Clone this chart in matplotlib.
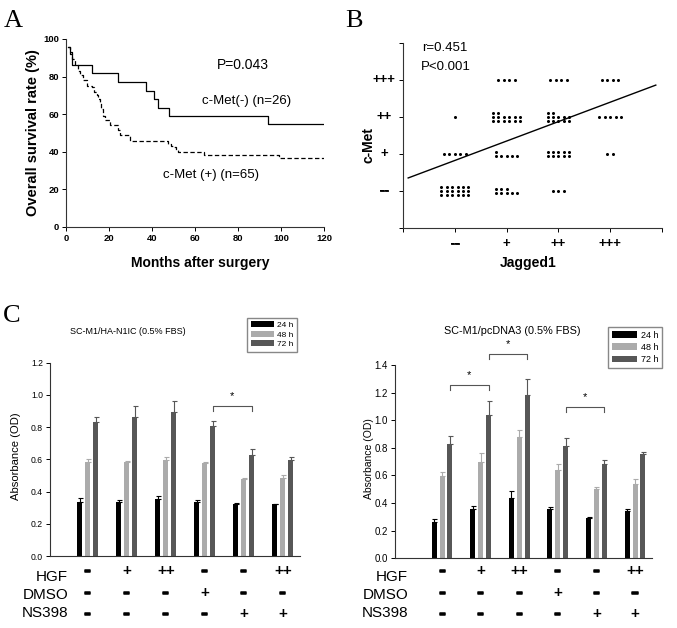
import numpy as np
import matplotlib.pyplot as plt
import matplotlib.patheffects as pe
from matplotlib.patches import Patch
from matplotlib.transforms import blended_transform_factory

plt.rcParams['font.family'] = ['Liberation Sans', 'DejaVu Sans']

# --- 1. Data ---

# Panel A: Kaplan-Meier steps (month, survival % after that month)
neg_months = [0.8, 2, 3, 12, 24, 37, 41, 43, 48, 94, 120]
neg_surv = [96, 92, 86.2, 82, 77.3, 72.5, 68, 63.5, 59, 54.6, 54.6]
pos_months = [0.8, 2, 3, 4.2, 5.5, 6.5, 8, 9.6, 11.9, 13, 14.3, 15, 15.8, 16.5,
              17.1, 18.1, 20.5, 24.3, 25.1, 29.8, 47.6, 48.8, 49.9, 51, 52.2,
              64, 99, 120]
pos_surv = [96, 93, 89.5, 86.2, 83, 80.9, 78, 75, 74.3, 72, 70.2, 68, 65.8, 62.5,
            59, 56.9, 54.3, 51.6, 48.9, 45.9, 44.4, 43, 42.4, 41, 40.1,
            38.5, 36.5, 36.5]

# Panel B: score levels and dot columns (column heights) per c-Met level
levels = ['--', '+', '++', '+++']
jag_neg = [[3, 3, 3, 3, 3, 3], [1, 1, 1, 1, 1], [1], []]
jag_p1 = [[2, 2, 2, 1, 1], [2, 1, 1, 1, 1], [3, 3, 2, 2, 2, 2], [1, 1, 1, 1]]
jag_p2 = [[1, 1, 1], [2, 2, 2, 2, 2], [3, 3, 2, 2, 2], [1, 1, 1, 1]]
jag_p3 = [[], [1, 1], [1, 1, 1, 1, 1], [1, 1, 1, 1]]
fit_slope = 0.525
fit_intercept = 1.30

# Panel C: absorbance
times = ['24 h', '48 h', '72 h']
left_24 = [0.335, 0.335, 0.355, 0.335, 0.32, 0.322]
left_24_err = [0.022, 0.012, 0.015, 0.01, 0.012, 0.003]
left_48 = [0.585, 0.585, 0.595, 0.575, 0.475, 0.485]
left_48_err = [0.015, 0.004, 0.02, 0.01, 0.008, 0.015]
left_72 = [0.83, 0.86, 0.895, 0.81, 0.625, 0.595]
left_72_err = [0.035, 0.07, 0.07, 0.03, 0.04, 0.02]

right_24 = [0.265, 0.36, 0.435, 0.36, 0.29, 0.34]
right_24_err = [0.02, 0.02, 0.055, 0.01, 0.008, 0.018]
right_48 = [0.595, 0.70, 0.875, 0.64, 0.505, 0.54]
right_48_err = [0.03, 0.06, 0.055, 0.04, 0.012, 0.035]
right_72 = [0.83, 1.035, 1.185, 0.815, 0.68, 0.755]
right_72_err = [0.055, 0.105, 0.115, 0.055, 0.035, 0.015]

cond_names = ['HGF', 'DMSO', 'NS398']
hgf = ['-', '+', '++', '-', '-', '++']
dmso = ['-', '-', '-', '+', '-', '-']
ns398 = ['-', '-', '-', '-', '+', '+']

left_brackets = [(3, 4, 0.93)]
right_brackets = [(0, 1, 1.255), (1, 2, 1.477), (3, 4, 1.093)]

# --- 2. Layout helpers ---
W, H = 677, 628
fig = plt.figure(figsize=(W / 100, H / 100), dpi=100)


def box(l, t, r, b):
    return [l / W, 1 - b / H, (r - l) / W, (b - t) / H]


def fy(y):
    return 1 - y / H


def clean(ax):
    ax.spines['top'].set_visible(False)
    ax.spines['right'].set_visible(False)
    for s in ('left', 'bottom'):
        ax.spines[s].set_linewidth(0.8)
        ax.spines[s].set_color('#333333')


# --- 3. Panel A ---
axA = fig.add_axes(box(66, 39, 324, 227))
axA.step(neg_months, neg_surv, where='post', color='k', lw=0.9)
axA.step(pos_months, pos_surv, where='post', color='k', lw=0.9, ls=(0, (3.5, 2)))
axA.set_xlim(0, 120)
axA.set_ylim(0, 100)
axA.set_xticks(range(0, 121, 20))
axA.set_yticks(range(0, 101, 20))
clean(axA)
axA.tick_params(direction='out', length=3, width=0.7, labelsize=6.8, pad=2)
for lbl in axA.get_xticklabels() + axA.get_yticklabels():
    lbl.set_fontweight('bold')
axA.text(70.2, 84.3, 'P=0.043', fontsize=10)
axA.text(63.3, 65.4, 'c-Met(-) (n=26)', fontsize=9.5)
axA.text(45.1, 25.9, 'c-Met (+) (n=65)', fontsize=9.5)
fig.text(33 / W, fy(133), 'Overall survival rate (%)', rotation=90, ha='center',
         va='center', fontsize=10.5, fontweight='bold')
fig.text(200 / W, fy(263), 'Months after surgery', ha='center', va='center',
         fontsize=10, fontweight='bold')

# --- 4. Panel B ---
axB = fig.add_axes(box(403, 43, 662, 228))
dx, dy = 0.105, 0.115
for j, cells in enumerate([jag_neg, jag_p1, jag_p2, jag_p3]):
    for m, cols in enumerate(cells):
        if not cols:
            continue
        n = len(cols)
        base = (m + 1) - (max(cols) - 1) / 2 * dy
        for c, h in enumerate(cols):
            xs = np.full(h, (j + 1) + (c - (n - 1) / 2) * dx)
            ys = base + np.arange(h) * dy
            axB.plot(xs, ys, 'o', color='k', ms=2.2, mec='none')
xl = np.array([0.1, 4.88])
axB.plot(xl, fit_intercept + fit_slope * xl, color='k', lw=1.0)
axB.set_xlim(0, 5)
axB.set_ylim(0, 5)
axB.set_xticks(range(6))
axB.set_yticks(range(6))
axB.set_xticklabels([])
axB.set_yticklabels([])
clean(axB)
axB.tick_params(direction='out', length=3, width=0.7)
for i, lab in enumerate(levels):
    fx = [pe.withStroke(linewidth=0.6, foreground='k')] if lab == '--' else None
    axB.text(i + 1, -0.087, lab, transform=axB.get_xaxis_transform(), ha='center',
             va='center', fontsize=9.5, fontweight='bold', path_effects=fx)
    axB.text(-0.073, i + 1, lab, transform=axB.get_yaxis_transform(), ha='center',
             va='center', fontsize=9.5, fontweight='bold', path_effects=fx)
axB.text(0.073, 0.957, 'r=0.451', transform=axB.transAxes, fontsize=9.5, va='baseline')
axB.text(0.070, 0.855, 'P<0.001', transform=axB.transAxes, fontsize=9.5, va='baseline')
fig.text(368 / W, fy(145), 'c-Met', rotation=90, ha='center', va='center',
         fontsize=10, fontweight='bold')
fig.text(528 / W, fy(263), 'Jagged1', ha='center', va='center',
         fontsize=10, fontweight='bold')

# --- 5. Panel C ---
bar_colors = ['#000000', '#ababab', '#575757']
offsets = [-0.205, 0.0, 0.205]
label_rows = [577, 595, 613]
symbol_rows = [571, 593, 614]


def bar_panel(rect, xlim, ymax, vals, errs, brackets, drop, title, title_xy,
              title_fs, ylab_xy, ylab_fs, fs, leg_anchor, leg_fs, leg_sp,
              label_right):
    ax = fig.add_axes(rect)
    x = np.arange(6)
    for k in range(3):
        ax.bar(x + offsets[k], vals[k], width=0.13, color=bar_colors[k],
               yerr=[np.zeros(6), errs[k]],
               error_kw=dict(ecolor=bar_colors[k], elinewidth=0.8, capsize=1.8,
                             capthick=0.8))
    ax.set_xlim(*xlim)
    ax.set_ylim(0, ymax)
    ax.set_xticks([])
    ax.set_yticks(np.arange(0, ymax + 0.01, 0.2))
    ax.set_yticklabels(['%.1f' % v for v in np.arange(0, ymax + 0.01, 0.2)])
    clean(ax)
    ax.tick_params(axis='y', direction='out', length=3, width=0.7, labelsize=fs, pad=2)
    for a, b, h in brackets:
        xa, xb = a + offsets[2], b + offsets[2]
        ax.plot([xa, xa, xb, xb], [h - drop, h, h, h - drop], color='#555555',
                lw=0.8, clip_on=False)
        ax.text((xa + xb) / 2, h + 2.2 * drop, '*', ha='center', va='center',
                fontsize=8)
    fig.text(title_xy[0] / W, fy(title_xy[1]), title, ha='center', va='center',
             fontsize=title_fs)
    fig.text(ylab_xy[0] / W, fy(ylab_xy[1]), 'Absorbance (OD)', rotation=90,
             ha='center', va='center', fontsize=ylab_fs)
    handles = [Patch(facecolor=c, edgecolor='none') for c in bar_colors]
    ax.legend(handles, times, loc='upper right', bbox_to_anchor=leg_anchor,
              bbox_transform=fig.transFigure, fontsize=leg_fs, frameon=True,
              fancybox=False, edgecolor='#888888', framealpha=1,
              handlelength=2.8, handleheight=0.7, borderpad=0.4,
              labelspacing=leg_sp, handletextpad=0.4, borderaxespad=0)
    trans = blended_transform_factory(ax.transData, fig.transFigure)
    for row, syms in enumerate([hgf, dmso, ns398]):
        fig.text(label_right / W, fy(label_rows[row]), cond_names[row], ha='right',
                 va='center', fontsize=11)
        for i, s in enumerate(syms):
            if s == '-':
                ax.text(i, fy(symbol_rows[row]), s, transform=trans, ha='center',
                        va='center', fontsize=12, fontweight='bold',
                        family='DejaVu Sans',
                        path_effects=[pe.withStroke(linewidth=1.1, foreground='k')])
            else:
                ax.text(i, fy(symbol_rows[row]), s, transform=trans, ha='center',
                        va='center', fontsize=11, fontweight='bold')
    return ax


bar_panel(box(50, 362.7, 300, 556), (-0.97, 5.44), 1.2,
          [left_24, left_48, left_72], [left_24_err, left_48_err, left_72_err],
          left_brackets, 0.028, 'SC-M1/HA-N1IC (0.5% FBS)', (128, 332), 6.5,
          (16, 456), 8.1, 6.2, (297 / W, fy(318)), 6.0, 0.2, 68)
bar_panel(box(395, 365, 652, 558.3), (-1.22, 5.44), 1.4,
          [right_24, right_48, right_72], [right_24_err, right_48_err, right_72_err],
          right_brackets, 0.033, 'SC-M1/pcDNA3 (0.5% FBS)', (512, 331), 7.8,
          (369, 459), 7.5, 7.0, (662 / W, fy(327)), 6.5, 0.35, 408)

# --- 6. Panel letters ---
for letter, (lx, ly) in zip('ABC', [(4, 27), (345, 27), (3, 322)]):
    fig.text(lx / W, fy(ly), letter, fontsize=19, family='Liberation Serif',
             va='baseline')

fig.savefig('out.png', dpi=100)
